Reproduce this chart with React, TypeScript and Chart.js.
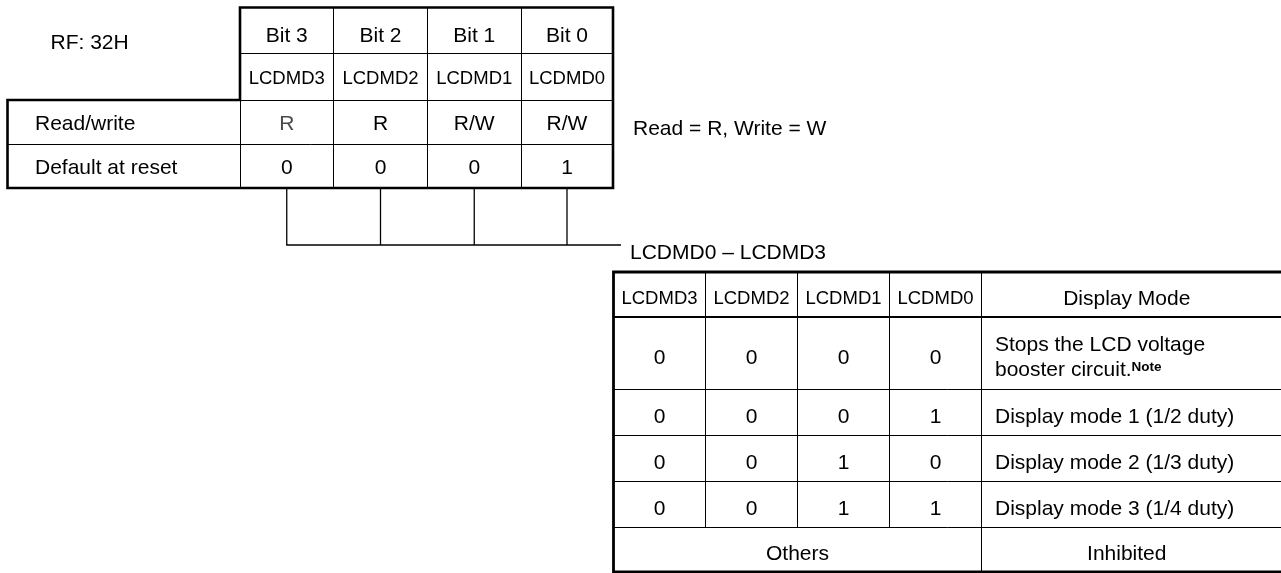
import React, { useEffect, useRef } from "react";
import { Chart, registerables } from "chart.js";

Chart.register(...registerables);

// ---------- data ----------
const registerName = "RF: 32H";
const bitLabels = ["Bit 3", "Bit 2", "Bit 1", "Bit 0"];
const flagNames = ["LCDMD3", "LCDMD2", "LCDMD1", "LCDMD0"];
const rowLabels = ["Read/write", "Default at reset"];
const accessModes = ["R", "R", "R/W", "R/W"];
const resetValues = [0, 0, 0, 1];
const accessLegend = "Read = R, Write = W";
const fieldLabel = "LCDMD0 \u2013 LCDMD3";
const modeHeader = "Display Mode";
const lcdmd3Values = [0, 0, 0, 0];
const lcdmd2Values = [0, 0, 0, 0];
const lcdmd1Values = [0, 0, 1, 1];
const lcdmd0Values = [0, 1, 0, 1];
const modeDescriptions = [
  ["Stops the LCD voltage", "booster circuit."],
  ["Display mode 1 (1/2 duty)"],
  ["Display mode 2 (1/3 duty)"],
  ["Display mode 3 (1/4 duty)"],
];
const noteMarks = ["Note", "", "", ""];
const othersLabel = "Others";
const othersMode = "Inhibited";

// ---------- layout & style ----------
const W = 1281;
const H = 573;
const TOP_X = [7.5, 240, 333.5, 427.5, 521, 613];
const TOP_Y = [7.5, 53, 100, 144, 188];
const LINK_Y = 245;
const LINK_END_X = 621;
const LOW_X = [613.5, 705.5, 797.5, 889.5, 981.5, 1272];
const LOW_Y = [272, 317, 389, 435, 481, 527, 572];
const FONT = "'Liberation Sans', Arial, Helvetica, sans-serif";
const MAIN = 21;
const SMALL = 18.5;
const accessInk = ["#4a4a4a", "#000", "#000", "#000"];

const tablePlugin = {
  id: "registerTable",
  beforeDraw(chart: any) {
    const ctx = chart.ctx;
    ctx.save();
    ctx.fillStyle = "#fff";
    ctx.fillRect(0, 0, chart.width, chart.height);
    ctx.restore();
  },
  afterDraw(chart: any) {
    const ctx: CanvasRenderingContext2D = chart.ctx;
    const xs = chart.scales.x;
    const ys = chart.scales.y;
    const px = (v: number) => xs.getPixelForValue(v);
    const py = (v: number) => ys.getPixelForValue(v);
    const snap = (p: number) => Math.round(p - 0.5) + 0.5;
    const right = xs.getPixelForValue(W + 20);

    ctx.save();
    ctx.strokeStyle = "#000";
    ctx.lineCap = "butt";
    ctx.lineJoin = "miter";

    const thin = (x1: number, y1: number, x2: number, y2: number, w = 1) => {
      ctx.lineWidth = w;
      ctx.beginPath();
      if (x1 === x2) {
        ctx.moveTo(snap(px(x1)), py(y1));
        ctx.lineTo(snap(px(x2)), py(y2));
      } else {
        ctx.moveTo(px(x1), snap(py(y1)));
        ctx.lineTo(px(x2), snap(py(y2)));
      }
      ctx.stroke();
    };

    // ----- top register table -----
    thin(TOP_X[1], TOP_Y[1], TOP_X[5], TOP_Y[1]);
    thin(TOP_X[1], TOP_Y[2], TOP_X[5], TOP_Y[2]);
    thin(TOP_X[0], TOP_Y[3], TOP_X[5], TOP_Y[3]);
    for (let i = 2; i <= 4; i++) thin(TOP_X[i], TOP_Y[0], TOP_X[i], TOP_Y[4]);
    thin(TOP_X[1], TOP_Y[2], TOP_X[1], TOP_Y[4]);

    ctx.lineWidth = 2.6;
    ctx.beginPath();
    ctx.moveTo(px(TOP_X[1]), py(TOP_Y[0]));
    ctx.lineTo(px(TOP_X[5]), py(TOP_Y[0]));
    ctx.lineTo(px(TOP_X[5]), py(TOP_Y[4]));
    ctx.lineTo(px(TOP_X[0]), py(TOP_Y[4]));
    ctx.lineTo(px(TOP_X[0]), py(TOP_Y[2]));
    ctx.lineTo(px(TOP_X[1]), py(TOP_Y[2]));
    ctx.closePath();
    ctx.stroke();

    // connectors
    const centers = [1, 2, 3, 4].map((i) => (TOP_X[i] + TOP_X[i + 1]) / 2);
    ctx.lineWidth = 1.3;
    centers.forEach((c) => {
      ctx.beginPath();
      ctx.moveTo(px(c), py(TOP_Y[4]));
      ctx.lineTo(px(c), py(LINK_Y));
      ctx.stroke();
    });
    ctx.beginPath();
    ctx.moveTo(px(centers[0]) - 0.6, py(LINK_Y));
    ctx.lineTo(px(LINK_END_X), py(LINK_Y));
    ctx.stroke();

    // ----- lower mode table -----
    for (let r = 2; r <= 5; r++) thin(LOW_X[0], LOW_Y[r], W + 20, LOW_Y[r]);
    for (let c = 1; c <= 3; c++) thin(LOW_X[c], LOW_Y[0], LOW_X[c], LOW_Y[5]);
    thin(LOW_X[4], LOW_Y[0], LOW_X[4], LOW_Y[6]);
    ctx.lineWidth = 2.2;
    ctx.beginPath();
    ctx.moveTo(px(LOW_X[0]), py(LOW_Y[1]));
    ctx.lineTo(right, py(LOW_Y[1]));
    ctx.stroke();
    ctx.lineWidth = 2.8;
    ctx.beginPath();
    ctx.moveTo(right, py(LOW_Y[0]));
    ctx.lineTo(px(LOW_X[0]), py(LOW_Y[0]));
    ctx.lineTo(px(LOW_X[0]), py(LOW_Y[6]));
    ctx.lineTo(right, py(LOW_Y[6]));
    ctx.stroke();

    // ----- text -----
    ctx.fillStyle = "#000";
    ctx.textBaseline = "alphabetic";
    const text = (
      s: string,
      x: number,
      capCenter: number,
      size: number,
      align: CanvasTextAlign,
      color = "#000",
      weight = ""
    ) => {
      ctx.font = `${weight ? weight + " " : ""}${size}px ${FONT}`;
      ctx.textAlign = align;
      ctx.fillStyle = color;
      ctx.fillText(s, px(x), py(capCenter + (0.716 * size) / 2));
    };
    const mid = (a: number, b: number) => (a + b) / 2;

    text(registerName, 50.5, 41.7, MAIN, "left");
    bitLabels.forEach((s, i) =>
      text(s, mid(TOP_X[i + 1], TOP_X[i + 2]), mid(TOP_Y[0], TOP_Y[1]) + 4.5, MAIN, "center")
    );
    flagNames.forEach((s, i) =>
      text(s, mid(TOP_X[i + 1], TOP_X[i + 2]), mid(TOP_Y[1], TOP_Y[2]) + 0.5, SMALL, "center")
    );
    rowLabels.forEach((s, r) =>
      text(s, 35, mid(TOP_Y[r + 2], TOP_Y[r + 3]) + 0.5, MAIN, "left")
    );
    accessModes.forEach((s, i) =>
      text(s, mid(TOP_X[i + 1], TOP_X[i + 2]), mid(TOP_Y[2], TOP_Y[3]) + 0.5, MAIN, "center", accessInk[i])
    );
    resetValues.forEach((v, i) =>
      text(String(v), mid(TOP_X[i + 1], TOP_X[i + 2]), mid(TOP_Y[3], TOP_Y[4]) + 0.5, MAIN, "center")
    );
    text(accessLegend, 633, 127, 21, "left");
    text(fieldLabel, 630, 251, 21, "left");

    const off = 3;
    flagNames.forEach((s, i) =>
      text(s, mid(LOW_X[i], LOW_X[i + 1]), mid(LOW_Y[0], LOW_Y[1]) + off, SMALL, "center")
    );
    text(modeHeader, mid(LOW_X[4], LOW_X[5]), mid(LOW_Y[0], LOW_Y[1]) + off, MAIN, "center");

    const bitColumns = [lcdmd3Values, lcdmd2Values, lcdmd1Values, lcdmd0Values];
    modeDescriptions.forEach((lines, r) => {
      const cy = mid(LOW_Y[r + 1], LOW_Y[r + 2]) + off;
      bitColumns.forEach((col, c) =>
        text(String(col[r]), mid(LOW_X[c], LOW_X[c + 1]), cy, MAIN, "center")
      );
      const lh = 25;
      const first = cy - ((lines.length - 1) * lh) / 2;
      lines.forEach((ln, k) => text(ln, LOW_X[4] + 13.5, first + k * lh, MAIN, "left"));
      if (noteMarks[r]) {
        const last = lines[lines.length - 1];
        ctx.font = `${MAIN}px ${FONT}`;
        const w = ctx.measureText(last).width;
        const lastCap = first + (lines.length - 1) * lh;
        ctx.font = `bold 13.5px ${FONT}`;
        ctx.textAlign = "left";
        ctx.fillStyle = "#000";
        ctx.fillText(
          noteMarks[r],
          px(LOW_X[4] + 13.5) + w,
          py(lastCap + (0.716 * MAIN) / 2 - 5)
        );
      }
    });
    const oy = mid(LOW_Y[5], LOW_Y[6]) + off;
    text(othersLabel, mid(LOW_X[0], LOW_X[4]), oy, MAIN, "center");
    text(othersMode, mid(LOW_X[4], LOW_X[5]), oy, MAIN, "center");

    ctx.restore();
  },
};

export default function App() {
  const ref = useRef<HTMLCanvasElement | null>(null);
  useEffect(() => {
    if (!ref.current) return;
    const chart = new Chart(ref.current, {
      type: "scatter",
      data: { datasets: [] },
      options: {
        animation: false,
        responsive: false,
        devicePixelRatio: 1,
        events: [],
        layout: { padding: 0 },
        plugins: { legend: { display: false }, tooltip: { enabled: false } },
        scales: {
          x: { type: "linear", min: 0, max: W, display: false },
          y: { type: "linear", min: 0, max: H, reverse: true, display: false },
        },
      },
      plugins: [tablePlugin],
    } as any);
    return () => chart.destroy();
  }, []);
  return (
    <div style={{ position: "absolute", left: 0, top: 0, width: W, height: H, background: "#fff" }}>
      <canvas ref={ref} width={W} height={H} style={{ display: "block" }} />
    </div>
  );
}
